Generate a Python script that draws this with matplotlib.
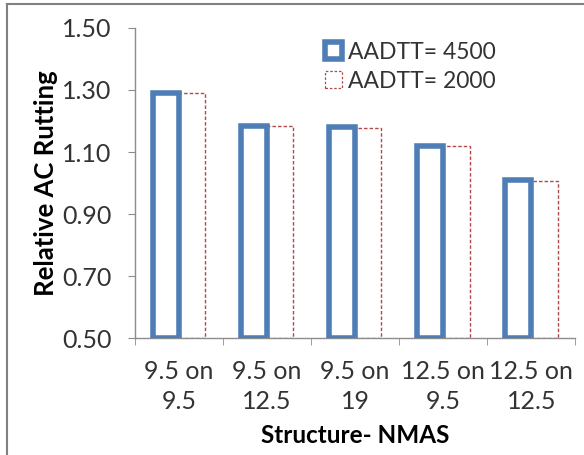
import matplotlib
matplotlib.use("Agg")
import matplotlib.pyplot as plt
import numpy as np
from matplotlib.lines import Line2D
from matplotlib.patches import Rectangle

categories = ["9.5 on\n9.5", "9.5 on\n12.5", "9.5 on\n19", "12.5 on\n9.5", "12.5 on\n12.5"]
aadtt_4500 = [1.29, 1.185, 1.18, 1.12, 1.01]
aadtt_2000 = [1.29, 1.183, 1.178, 1.118, 1.008]
series_labels = ["AADTT= 4500", "AADTT= 2000"]
y_ticks = [0.50, 0.70, 0.90, 1.10, 1.30, 1.50]

BLUE = "#4F7DB5"
RED = "#B04848"
TEXT = "#333333"
SPINE = "#8C8C8C"

plt.rcParams["font.family"] = ["Lato", "DejaVu Sans"]

fig = plt.figure(figsize=(5.84, 4.55), dpi=100)
ax = fig.add_axes([0.231, 0.257, 0.754, 0.6815])

x = np.arange(len(categories))
w = 0.3
base = y_ticks[0]

h2000 = np.array(aadtt_2000) - base
h4500 = np.array(aadtt_4500) - base

ax.bar(x + w / 2, h2000, width=w, bottom=base, facecolor="white",
       edgecolor=RED, linewidth=1.0, linestyle=(0, (2.5, 1.5)), zorder=2)
ax.bar(x - w / 2, h4500, width=w, bottom=base, facecolor="white",
       edgecolor=BLUE, linewidth=4.0, zorder=3)

ax.set_ylim(y_ticks[0], y_ticks[-1])
ax.set_xlim(-0.5, len(categories) - 0.5)
ax.set_yticks(y_ticks)
ax.set_yticklabels([f"{v:.2f}" for v in y_ticks])
ax.set_xticks(x)
ax.set_xticklabels(categories, linespacing=1.35)
ax.set_xticks(np.arange(len(categories) + 1) - 0.5, minor=True)

for s in ("top", "right"):
    ax.spines[s].set_visible(False)
for s in ("left", "bottom"):
    ax.spines[s].set_color(SPINE)
    ax.spines[s].set_linewidth(1.0)

ax.tick_params(axis="y", direction="out", length=5, color=SPINE,
               labelsize=18, labelcolor=TEXT, pad=12)
ax.tick_params(axis="x", which="major", length=0, labelsize=18,
               labelcolor=TEXT, pad=16)
ax.tick_params(axis="x", which="minor", direction="out", length=5, color=SPINE)

ax.set_ylabel("Relative AC Rutting", fontsize=18.5, fontweight="bold",
              color="black", labelpad=3)
ax.set_xlabel("Structure- NMAS", fontsize=17.5, fontweight="bold",
              color="black", labelpad=8)

handles = [
    Rectangle((0, 0), 1, 1, facecolor="white", edgecolor=BLUE, linewidth=4.0),
    Rectangle((0, 0), 1, 1, facecolor="white", edgecolor=RED, linewidth=0.9,
              linestyle=(0, (2, 1.5))),
]
leg = ax.legend(handles, series_labels, loc="upper left",
                bbox_to_anchor=(0.40, 1.0), frameon=False, fontsize=16.5,
                handlelength=0.75, handleheight=0.75, handletextpad=0.25,
                labelspacing=0.35, borderaxespad=0.2)
for t in leg.get_texts():
    t.set_color(TEXT)

# frame lines along the left and top edges of the figure
fig.add_artist(Line2D([0.012, 0.012], [0.0, 0.991], transform=fig.transFigure,
                      color="#808080", linewidth=1.5))
fig.add_artist(Line2D([0.012, 1.0], [0.991, 0.991], transform=fig.transFigure,
                      color="#808080", linewidth=1.5))

fig.savefig("out.png", dpi=100)
